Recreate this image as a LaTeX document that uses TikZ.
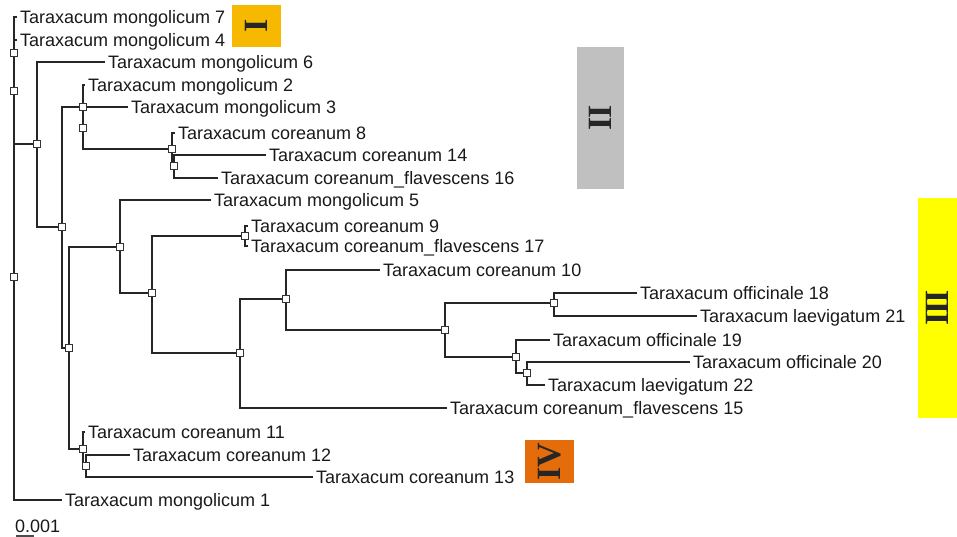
\documentclass[tikz,border=0pt]{standalone}
\usepackage{fontspec}
\setmainfont{Liberation Sans}
\newfontfamily\numfont{Liberation Serif}
\definecolor{amberbox}{RGB}{247,184,0}
\definecolor{greybox}{RGB}{192,192,192}
\definecolor{yellowbox}{RGB}{255,255,0}
\definecolor{orangebox}{RGB}{228,108,10}
\begin{document}
\begin{tikzpicture}[x=1pt,y=-1pt,
  br/.style={line width=1.9pt, draw=black!85},
  nd/.style={draw=black!80, fill=white, line width=0.9pt, minimum size=7.5pt, inner sep=0pt, rectangle},
  leaf/.style={anchor=west, inner xsep=3pt, inner ysep=0pt, text height=12.9pt, text depth=0pt, font=\fontsize{18}{20}\selectfont, text=black!90},
  cladebox/.style={rotate=90, inner sep=0pt, font=\numfont\bfseries\fontsize{34}{34}\selectfont, text=black!85}]
\useasboundingbox (0,0) rectangle (957,537);
% clade boxes
\node[cladebox, fill=amberbox, minimum width=42pt, minimum height=49pt] (boxI) at (256.5,26) {I};
\node[cladebox, fill=greybox, minimum width=142pt, minimum height=47pt] (boxII) at (600.5,118) {I\kern-2pt I};
\node[cladebox, fill=yellowbox, minimum width=220pt, minimum height=39pt] (boxIII) at (937.5,308) {I\kern-2pt I\kern-2pt I};
\node[cladebox, fill=orangebox, minimum width=43pt, minimum height=49pt] (boxIV) at (549.5,461.5) {IV};
% internal nodes
\coordinate (R) at (14,277);
\coordinate (P1) at (14,91);
\coordinate (Q) at (14,53);
\coordinate (B) at (37,144);
\coordinate (C) at (62,227);
\coordinate (G) at (83,107);
\coordinate (G2) at (83,128);
\coordinate (H) at (172,149);
\coordinate (H2) at (174,166);
\coordinate (D) at (69,348);
\coordinate (E) at (120,247);
\coordinate (I) at (152,293);
\coordinate (J) at (245,236);
\coordinate (K) at (240,353);
\coordinate (L) at (286,299);
\coordinate (M) at (445,330);
\coordinate (N) at (554,303);
\coordinate (O) at (516,357);
\coordinate (O2) at (527,373);
\coordinate (F) at (83,449);
\coordinate (F2) at (86,466);
% leaves
\node[leaf] (m7) at (17,17) {Taraxacum mongolicum 7};
\node[leaf] (m4) at (17,40) {Taraxacum mongolicum 4};
\node[leaf] (m6) at (105,62) {Taraxacum mongolicum 6};
\node[leaf] (m2) at (85,85) {Taraxacum mongolicum 2};
\node[leaf] (m3) at (128,107) {Taraxacum mongolicum 3};
\node[leaf] (c8) at (175,133) {Taraxacum coreanum 8};
\node[leaf] (c14) at (266,155) {Taraxacum coreanum 14};
\node[leaf] (f16) at (218,178) {Taraxacum coreanum\_flavescens 16};
\node[leaf] (m5) at (211,200) {Taraxacum mongolicum 5};
\node[leaf] (c9) at (248,226) {Taraxacum coreanum 9};
\node[leaf] (f17) at (248,246) {Taraxacum coreanum\_flavescens 17};
\node[leaf] (c10) at (380,270) {Taraxacum coreanum 10};
\node[leaf] (o18) at (637,293) {Taraxacum officinale 18};
\node[leaf] (l21) at (697,316) {Taraxacum laevigatum 21};
\node[leaf] (o19) at (550,340) {Taraxacum officinale 19};
\node[leaf] (o20) at (690,362) {Taraxacum officinale 20};
\node[leaf] (l22) at (545,385) {Taraxacum laevigatum 22};
\node[leaf] (f15) at (447,408) {Taraxacum coreanum\_flavescens 15};
\node[leaf] (c11) at (85,432) {Taraxacum coreanum 11};
\node[leaf] (c12) at (130,455) {Taraxacum coreanum 12};
\node[leaf] (c13) at (313,477) {Taraxacum coreanum 13};
\node[leaf] (m1) at (62,500) {Taraxacum mongolicum 1};
% branches
\draw[br] (R) -- (P1);
\draw[br] (R) |- (m1.west);
\draw[br] (P1) -- (Q);
\draw[br] (P1) |- (B);
\draw[br] (Q) |- (m7.west);
\draw[br] (Q) |- (m4.west);
\draw[br] (B) |- (m6.west);
\draw[br] (B) |- (C);
\draw[br] (C) |- (G);
\draw[br] (C) |- (D);
\draw[br] (G) |- (m2.west);
\draw[br] (G) -- (G2);
\draw[br] (G2) |- (m3.west);
\draw[br] (G2) |- (H);
\draw[br] (H) |- (c8.west);
\draw[br] (H) |- (H2);
\draw[br] (H2) |- (c14.west);
\draw[br] (H2) |- (f16.west);
\draw[br] (D) |- (E);
\draw[br] (D) |- (F);
\draw[br] (E) |- (m5.west);
\draw[br] (E) |- (I);
\draw[br] (I) |- (J);
\draw[br] (I) |- (K);
\draw[br] (J) |- (c9.west);
\draw[br] (J) |- (f17.west);
\draw[br] (K) |- (L);
\draw[br] (K) |- (f15.west);
\draw[br] (L) |- (c10.west);
\draw[br] (L) |- (M);
\draw[br] (M) |- (N);
\draw[br] (M) |- (O);
\draw[br] (N) |- (o18.west);
\draw[br] (N) |- (l21.west);
\draw[br] (O) |- (o19.west);
\draw[br] (O) |- (O2);
\draw[br] (O2) |- (o20.west);
\draw[br] (O2) |- (l22.west);
\draw[br] (F) |- (c11.west);
\draw[br] (F) |- (F2);
\draw[br] (F2) |- (c12.west);
\draw[br] (F2) |- (c13.west);
% node squares
\foreach \n in {R,P1,Q,B,C,G,G2,H,H2,D,E,I,J,K,L,M,N,O,O2,F,F2}
  \node[nd] (sq\n) at (\n) {};
% scale bar
\node[anchor=west, inner sep=0pt, font=\fontsize{18}{20}\selectfont, text=black!90] (scale) at (15,526) {0.001};
\coordinate (sb1) at (16,536);
\coordinate (sb2) at (34,536);
\draw[line width=1.5pt, draw=black!70] (sb1) -- (sb2);
\end{tikzpicture}
\end{document}
